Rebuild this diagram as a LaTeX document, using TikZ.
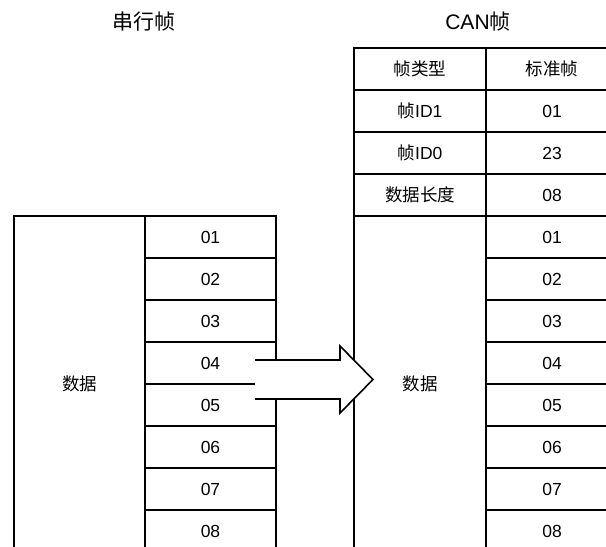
\documentclass[tikz,border=0pt]{standalone}
\usepackage{fontspec}
\setmainfont{Liberation Sans}
\newfontfamily\cjk{Noto Sans CJK SC}
\begin{document}
\begin{tikzpicture}[x=1pt,y=-1pt,line width=2pt,
  cell/.style={draw,line width=2pt,minimum width=131pt,minimum height=42pt,
    anchor=north west,inner sep=0pt,font=\fontsize{17.5}{17.5}\selectfont},
  bigcell/.style={cell,minimum width=131pt,minimum height=336pt},
  rcell/.style={cell,minimum width=132pt},
  rbigcell/.style={bigcell,minimum width=132pt},
  title/.style={inner sep=0pt,font=\fontsize{21}{21}\selectfont},
  blockarrow/.style={line width=1.6pt,line join=miter}]
\useasboundingbox (0,0) rectangle (606,547);
\clip (0,0) rectangle (606,547);
% titles
\node[title] (t1) at (144,22) {\cjk 串行帧};
\node[title] (t2) at (478,22) {CAN{\cjk 帧}};
% serial frame
\node[bigcell] (ld) at (13,215) {\cjk 数据};
\foreach \i in {1,...,8}
  \node[cell] (l\i) at (144,{215+42*(\i-1)}) {0\i};
% CAN frame header
\node[rcell] (h1a) at (353,47) {\cjk 帧类型};
\node[rcell] (h1b) at (485,47) {\cjk 标准帧};
\node[rcell] (h2a) at (353,89) {{\cjk 帧}ID1};
\node[rcell] (h2b) at (485,89) {01};
\node[rcell] (h3a) at (353,131) {{\cjk 帧}ID0};
\node[rcell] (h3b) at (485,131) {23};
\node[rcell] (h4a) at (353,173) {\cjk 数据长度};
\node[rcell] (h4b) at (485,173) {08};
\node[rbigcell] (rd) at (353,215) {\cjk 数据};
\foreach \i in {1,...,8}
  \node[rcell] (r\i) at (485,{215+42*(\i-1)}) {0\i};
% block arrow
\fill[white] (255,360) -- (340,360) -- (340,346) -- (373,379.5) -- (340,413) -- (340,399) -- (255,399) -- cycle;
\draw[blockarrow] (255,360) -- (340,360) -- (340,346) -- (373,379.5) -- (340,413) -- (340,399) -- (255,399);
\end{tikzpicture}
\end{document}
